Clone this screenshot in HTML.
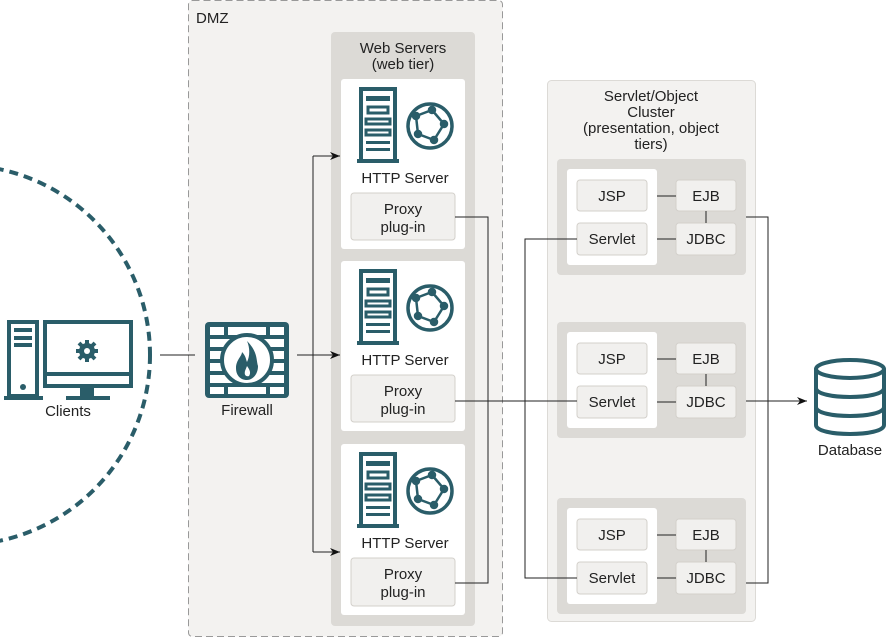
<!DOCTYPE html>
<html><head><meta charset="utf-8"><style>
html,body{margin:0;padding:0;background:#fff;}
svg{display:block;font-family:"Liberation Sans",sans-serif;}
text{fill:#222;font-size:15px;}
</style></head><body>
<svg width="888" height="637" viewBox="0 0 888 637" xmlns="http://www.w3.org/2000/svg">
<defs>
<marker id="ar" viewBox="0 0 10 10" refX="10" refY="5" markerWidth="10" markerHeight="10" orient="auto"><path d="M0,1 L10,5 L0,9 L3,5z" fill="#111"/></marker>
<g id="srv">
 <rect x="2" y="2" width="34" height="72" fill="none" stroke="#2a5d69" stroke-width="4"/>
 <rect x="-2" y="72" width="42" height="4" fill="#2a5d69"/>
 <rect x="7" y="9" width="24" height="5" fill="#2a5d69"/>
 <rect x="9" y="20" width="20" height="6" fill="none" stroke="#2a5d69" stroke-width="3"/>
 <rect x="7" y="32" width="24" height="5" fill="none" stroke="#2a5d69" stroke-width="3"/>
 <rect x="7" y="43" width="24" height="5" fill="none" stroke="#2a5d69" stroke-width="3"/>
 <rect x="7" y="54" width="24" height="3" fill="#2a5d69"/>
 <rect x="7" y="61" width="24" height="3" fill="#2a5d69"/>
 <g transform="translate(71,39)" fill="none" stroke="#2a5d69" stroke-width="3.5">
  <circle r="22"/>
  <path d="M-14,-10 L2,-16 L14,-2 L4,14 L-12,8 Z" stroke-width="2.5"/>
  <circle cx="2" cy="-16" r="2.5" fill="#2a5d69"/><circle cx="14" cy="-2" r="2.5" fill="#2a5d69"/><circle cx="4" cy="14" r="2.5" fill="#2a5d69"/><circle cx="-14" cy="-10" r="2.5" fill="#2a5d69"/><circle cx="-12" cy="8" r="2.5" fill="#2a5d69"/>
 </g>
</g>
<g id="grp">
 <rect x="0" y="0" width="189" height="116" rx="4" fill="#dcdad6"/>
 <rect x="10" y="10" width="90" height="96" rx="3" fill="#fff"/>
 <rect x="20" y="21" width="70" height="31" rx="3" fill="#f1f0ee" stroke="#d3d0cb"/>
 <rect x="20" y="64" width="70" height="32" rx="3" fill="#f1f0ee" stroke="#d3d0cb"/>
 <rect x="119" y="21" width="60" height="31" rx="3" fill="#f1f0ee" stroke="#d3d0cb"/>
 <rect x="119" y="64" width="60" height="32" rx="3" fill="#f1f0ee" stroke="#d3d0cb"/>
 <path d="M100,37 H119 M100,80 H119 M149,52 V64" stroke="#222" stroke-width="1"/>
 <text x="55" y="42" text-anchor="middle">JSP</text>
 <text x="55" y="85" text-anchor="middle">Servlet</text>
 <text x="149" y="42" text-anchor="middle">EJB</text>
 <text x="149" y="85" text-anchor="middle">JDBC</text>
</g>
</defs>

<circle cx="-40" cy="355" r="190" fill="none" stroke="#2a5d69" stroke-width="4" stroke-dasharray="9 6"/>
<g fill="none" stroke="#2a5d69" stroke-width="4">
 <rect x="9" y="322" width="28" height="74"/>
 <rect x="45" y="322" width="86" height="64"/>
 <line x1="45" y1="374" x2="131" y2="374"/>
</g>
<g fill="#2a5d69">
 <rect x="14" y="328" width="18" height="4"/><rect x="14" y="336" width="18" height="4"/><rect x="14" y="343" width="18" height="4"/>
 <circle cx="23" cy="387" r="3"/>
 <rect x="4" y="396" width="39" height="4"/>
 <rect x="80" y="386" width="14" height="10"/>
 <rect x="66" y="396" width="44" height="4"/>
 <circle cx="87" cy="351" r="8"/>
</g>
<g stroke="#2a5d69" stroke-width="4"><line x1="87" y1="340" x2="87" y2="362"/><line x1="76" y1="351" x2="98" y2="351"/><line x1="79" y1="343" x2="95" y2="359"/><line x1="95" y1="343" x2="79" y2="359"/></g>
<circle cx="87" cy="351" r="3" fill="#fff"/>
<text x="68" y="416" text-anchor="middle">Clients</text>

<rect x="188.5" y="0.5" width="314" height="636" rx="4" fill="#f3f2f0" stroke="#999" stroke-dasharray="7 4"/>
<text x="196" y="23" font-size="16">DMZ</text>

<line x1="160" y1="355" x2="195" y2="355" stroke="#222"/>
<rect x="205" y="322" width="84" height="76" rx="4" fill="#2a5d69"/>
<g fill="#fff">
 <rect x="210" y="327" width="14" height="8"/><rect x="228" y="327" width="38" height="8"/><rect x="270" y="327" width="14" height="8"/>
 <rect x="210" y="339" width="74" height="8"/><rect x="210" y="351" width="74" height="8"/><rect x="210" y="363" width="74" height="8"/><rect x="210" y="375" width="74" height="8"/>
 <rect x="210" y="387" width="14" height="7"/><rect x="228" y="387" width="38" height="7"/><rect x="270" y="387" width="14" height="7"/>
</g>
<circle cx="247" cy="360" r="25" fill="#fff" stroke="#2a5d69" stroke-width="4"/>
<path d="M247,341 C258,352 256,360 258,366 C258,375 252,380 247,380 C240,380 236,375 236,368 C236,360 242,356 242,352 C246,356 246,360 247,362 C250,356 250,348 247,341Z" fill="#2a5d69"/>
<path d="M247,366 C250,370 251,373 249,376 C246,377 244,375 245,371Z" fill="#fff"/>
<text x="247" y="415" text-anchor="middle">Firewall</text>

<rect x="331" y="32" width="144" height="594" rx="4" fill="#dcdad6"/>
<text x="403" y="53" text-anchor="middle">Web Servers</text>
<text x="403" y="69" text-anchor="middle">(web tier)</text>
<g>
 <rect x="341" y="79" width="124" height="170" rx="3" fill="#fff"/>
 <use href="#srv" x="359" y="87"/>
 <text x="405" y="183" text-anchor="middle">HTTP Server</text>
 <rect x="351" y="193" width="104" height="47" rx="3" fill="#f1f0ee" stroke="#d3d0cb"/>
 <text x="403" y="214" text-anchor="middle">Proxy</text><text x="403" y="232" text-anchor="middle">plug-in</text>
</g>
<g transform="translate(0,182)">
 <rect x="341" y="79" width="124" height="170" rx="3" fill="#fff"/>
 <use href="#srv" x="359" y="87"/>
 <text x="405" y="183" text-anchor="middle">HTTP Server</text>
 <rect x="351" y="193" width="104" height="47" rx="3" fill="#f1f0ee" stroke="#d3d0cb"/>
 <text x="403" y="214" text-anchor="middle">Proxy</text><text x="403" y="232" text-anchor="middle">plug-in</text>
</g>
<g transform="translate(0,365)">
 <rect x="341" y="79" width="124" height="171" rx="3" fill="#fff"/>
 <use href="#srv" x="359" y="87"/>
 <text x="405" y="183" text-anchor="middle">HTTP Server</text>
 <rect x="351" y="193" width="104" height="48" rx="3" fill="#f1f0ee" stroke="#d3d0cb"/>
 <text x="403" y="214" text-anchor="middle">Proxy</text><text x="403" y="232" text-anchor="middle">plug-in</text>
</g>

<rect x="547.5" y="80.5" width="208" height="541" rx="4" fill="#f3f2f0" stroke="#dcdad6"/>
<text x="651" y="101" text-anchor="middle">Servlet/Object</text>
<text x="651" y="117" text-anchor="middle">Cluster</text>
<text x="651" y="133" text-anchor="middle">(presentation, object</text>
<text x="651" y="149" text-anchor="middle">tiers)</text>
<use href="#grp" x="557" y="159"/>
<use href="#grp" x="557" y="322"/>
<use href="#grp" x="557" y="498"/>

<g stroke="#222" fill="none">
 <path d="M297,355 H313 M313,156 V552"/>
 <line x1="313" y1="156" x2="340" y2="156" marker-end="url(#ar)"/>
 <line x1="313" y1="355" x2="340" y2="355" marker-end="url(#ar)"/>
 <line x1="313" y1="552" x2="340" y2="552" marker-end="url(#ar)"/>
 <path d="M455,217 H488 V583 H455"/>
 <path d="M455,401 H577"/>
 <path d="M577,239 H525 V578 H577"/>
 <path d="M746,217 H768 V583 H746"/>
 <line x1="746" y1="401" x2="807" y2="401" marker-end="url(#ar)"/>
</g>

<g fill="none" stroke="#2a5d69" stroke-width="4">
 <ellipse cx="850" cy="369" rx="34" ry="9"/>
 <path d="M816,369 V425 C816,437 884,437 884,425 V369"/>
 <path d="M816,388 C816,400 884,400 884,388"/>
 <path d="M816,407 C816,419 884,419 884,407"/>
</g>
<text x="850" y="455" text-anchor="middle">Database</text>
</svg>
</body></html>
